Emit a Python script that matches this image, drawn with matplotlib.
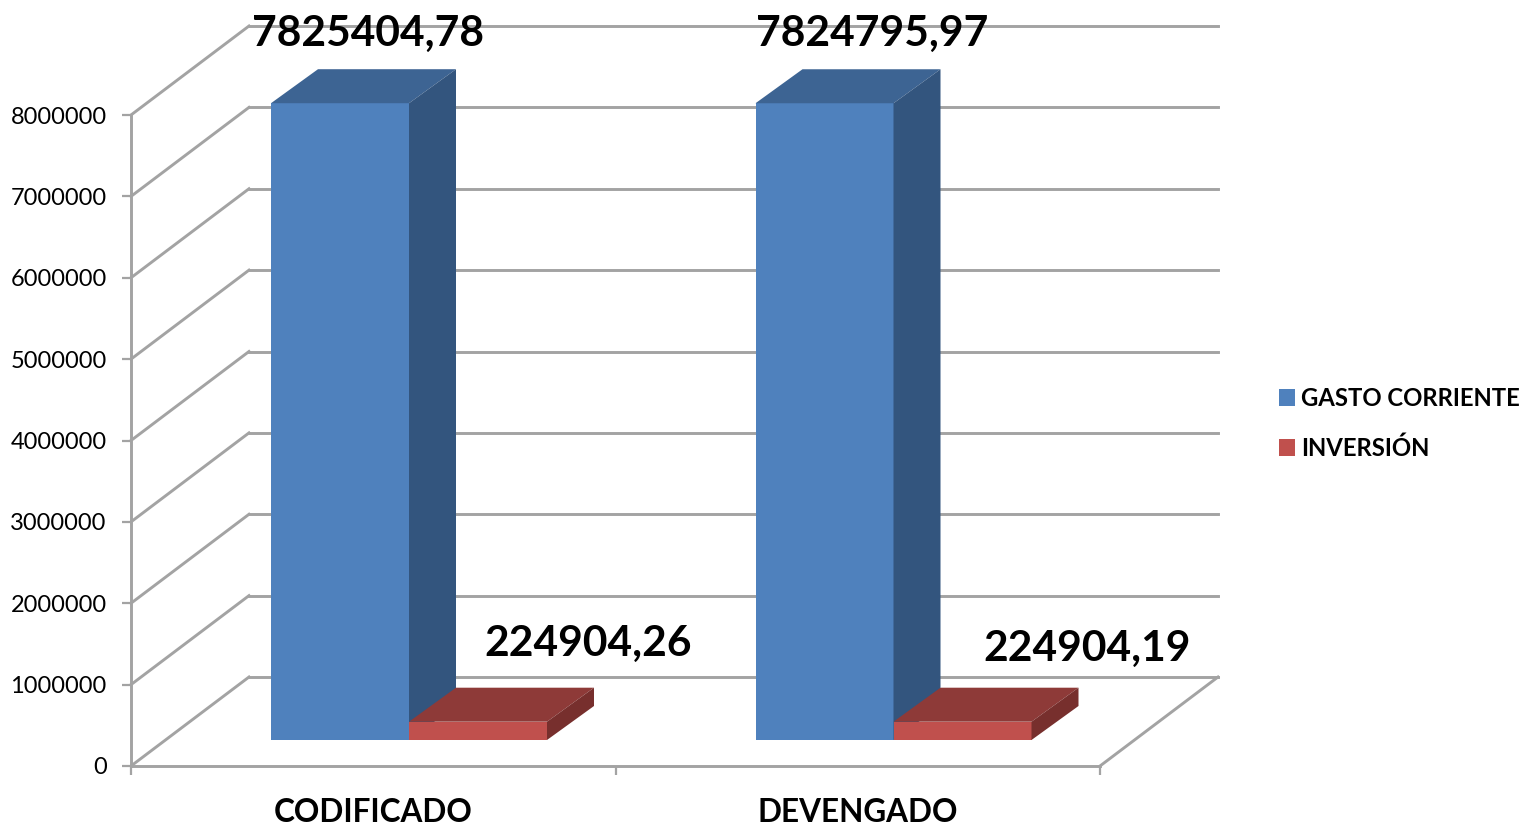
import matplotlib
matplotlib.use("Agg")
import matplotlib.pyplot as plt
from matplotlib.patches import Polygon

categories = ["CODIFICADO", "DEVENGADO"]
gasto_corriente = [7825404.78, 7824795.97]
inversion = [224904.26, 224904.19]
gasto_labels = ["7825404,78", "7824795,97"]
inversion_labels = ["224904,26", "224904,19"]
y_ticks = [0, 1000000, 2000000, 3000000, 4000000, 5000000, 6000000, 7000000, 8000000]

W, H = 1523, 827
GRID = "#a3a3a3"
FONT = "Lato"

fig = plt.figure(figsize=(W / 100, H / 100), dpi=100)
ax = fig.add_axes([131 / W, (H - 766) / H, 969 / W, 651 / H])
ax.set_xlim(0, 2)
ax.set_ylim(0, 8000000)

# depth of the fake 3d box, in data units
xpx = 2 / 969
ypx = 8000000 / 651
depth_x = 118 * xpx
depth_y = 89 * ypx

for v in y_ticks:
    ax.plot([0, depth_x], [v, v + depth_y], color=GRID, lw=2.1, clip_on=False, zorder=1)
    ax.plot([depth_x, 2 + depth_x], [v + depth_y, v + depth_y], color=GRID, lw=2.1,
            clip_on=False, zorder=1)
ax.plot([2, 2 + depth_x], [0, depth_y], color=GRID, lw=2.1, clip_on=False, zorder=1)


def box(x, value, width, front, top, side, label):
    # front face through bar, top and side faces as polygons
    base = 26 * ypx
    bars = ax.bar(x, value, width, bottom=base, align="edge", color=front, label=label, zorder=3,
                  clip_on=False)
    dx = 47 * xpx
    dy = 34 * ypx
    y1 = base + value
    ax.add_patch(Polygon([(x, y1), (x + dx, y1 + dy), (x + width + dx, y1 + dy), (x + width, y1)],
                         color=top, lw=0, zorder=3, clip_on=False))
    ax.add_patch(Polygon([(x + width, base), (x + width + dx, base + dy), (x + width + dx, y1 + dy),
                          (x + width, y1)], color=side, lw=0, zorder=3, clip_on=False))
    return bars


bar_w = 138 * xpx
start = 140 * xpx
for i in range(len(categories)):
    b1 = box(i + start, gasto_corriente[i], bar_w, "#4f81bd", "#3d6493", "#33557e",
             "GASTO CORRIENTE" if i == 0 else None)
    b2 = box(i + start + bar_w, inversion[i], bar_w, "#c0504d", "#8e3a38", "#772f2d",
             "INVERSIÓN" if i == 0 else None)
    ax.annotate(gasto_labels[i], (i + start + bar_w / 2, 26 * ypx + gasto_corriente[i]),
                xytext=([28, 48][i], 69), textcoords="offset pixels", ha="center", va="center",
                fontsize=30.6, fontweight="bold", family=FONT, zorder=5, annotation_clip=False)
    ax.annotate(inversion_labels[i], (i + start + bar_w * 1.5, 26 * ypx + inversion[i]),
                xytext=([110, 125][i], [78, 73][i]), textcoords="offset pixels", ha="center",
                va="center", fontsize=30.6, fontweight="bold", family=FONT, zorder=5,
                annotation_clip=False)

for s in ["top", "right"]:
    ax.spines[s].set_visible(False)
for s in ["left", "bottom"]:
    ax.spines[s].set_color(GRID)
    ax.spines[s].set_linewidth(2.1)

ax.set_yticks(y_ticks)
ax.set_yticklabels([str(v) for v in y_ticks], fontsize=17, family=FONT)
ax.set_xticks([0, 1, 2])
ax.set_xticklabels([])
ax.tick_params(axis="both", length=6.5, width=1.6, color=GRID, direction="out")
ax.tick_params(axis="y", pad=11)
for i, c in enumerate(categories):
    ax.annotate(c, (i + 0.5, 0), xytext=(0, -47), textcoords="offset pixels", ha="center",
                va="center", fontsize=22.7, fontweight="bold", family=FONT, annotation_clip=False)

handles, labels = ax.get_legend_handles_labels()
fig.legend(handles, labels, loc="upper left", bbox_to_anchor=(1279 / W, 1 - 387 / H), frameon=False,
           prop={"family": FONT, "weight": "bold", "size": 17.2}, handlelength=0.67,
           handleheight=0.67, handletextpad=0.27, labelspacing=1.1, borderpad=0, borderaxespad=0)

fig.savefig("out.png", dpi=100)
